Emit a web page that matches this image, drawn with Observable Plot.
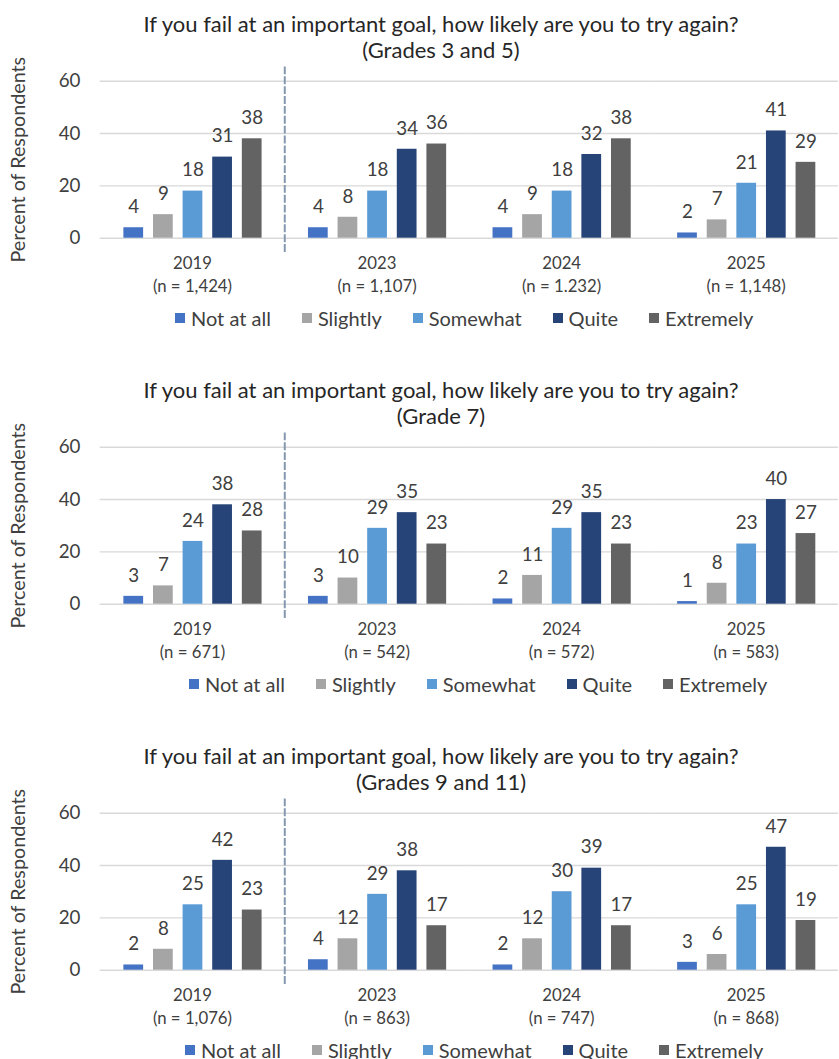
<!DOCTYPE html>
<html>
<head>
<meta charset="utf-8">
<script src="https://cdn.jsdelivr.net/npm/d3@7"></script>
<script src="https://cdn.jsdelivr.net/npm/@observablehq/plot@0.6"></script>
<style>
  html, body { margin: 0; padding: 0; background: #fff; }
  #root { position: relative; width: 839px; height: 1059px; overflow: hidden; background: #fff; font-family: Lato, "Open Sans", sans-serif; color: #404040; }
  .panel { position: absolute; left: 0; width: 839px; height: 366px; }
  .title { position: absolute; top: 11px; left: 41px; width: 800px; text-align: center; font-size: 22px; line-height: 26px; color: #262626; white-space: nowrap; }
  .chart { position: absolute; top: 62px; left: 0; }
  .legend { position: absolute; top: 306px; height: 23px; display: flex; align-items: center; gap: 31px; font-size: 20px; color: #404040; white-space: nowrap; }
  .legend .item { display: flex; align-items: center; gap: 6px; }
  .legend .sw { width: 10px; height: 10px; display: inline-block; }
</style>
</head>
<body>
<div id="root"></div>
<script>
// Survey question shared by the three panels
const question = "If you fail at an important goal, how likely are you to try again?";

// Survey years and answer levels
const years = ["2019", "2023", "2024", "2025"];
const levels = ["Not at all", "Slightly", "Somewhat", "Quite", "Extremely"];
const levelColors = ["#4472C4", "#A5A5A5", "#5B9BD5", "#264478", "#636363"];
const yTicks = [0, 20, 40, 60];

// Grades 3 and 5: percent per level, one row per year
const grades35 = [
  [4, 9, 18, 31, 38],
  [4, 8, 18, 34, 36],
  [4, 9, 18, 32, 38],
  [2, 7, 21, 41, 29]
];
const grades35N = ["(n = 1,424)", "(n = 1,107)", "(n = 1.232)", "(n = 1,148)"];

// Grade 7
const grade7 = [
  [3, 7, 24, 38, 28],
  [3, 10, 29, 35, 23],
  [2, 11, 29, 35, 23],
  [1, 8, 23, 40, 27]
];
const grade7N = ["(n = 671)", "(n = 542)", "(n = 572)", "(n = 583)"];

// Grades 9 and 11
const grades911 = [
  [2, 8, 25, 42, 23],
  [4, 12, 29, 38, 17],
  [2, 12, 30, 39, 17],
  [3, 6, 25, 47, 19]
];
const grades911N = ["(n = 1,076)", "(n = 863)", "(n = 747)", "(n = 868)"];

const panels = [
  {subtitle: "(Grades 3 and 5)", values: grades35, n: grades35N, legendLeft: 175},
  {subtitle: "(Grade 7)", values: grade7, n: grade7N, legendLeft: 189},
  {subtitle: "(Grades 9 and 11)", values: grades911, n: grades911N, legendLeft: 185}
];

const FONT = "Lato, 'Open Sans', sans-serif";
const root = document.getElementById("root");

panels.forEach((p, k) => {
  const rows = [];
  years.forEach((year, i) => levels.forEach((level, j) => rows.push({year, level, value: p.values[i][j]})));
  const yearRows = years.map((year, i) => ({year, n: p.n[i]}));

  const panel = document.createElement("div");
  panel.className = "panel";
  panel.style.top = (k * 366) + "px";

  const title = document.createElement("div");
  title.className = "title";
  title.innerHTML = `<div>${question}</div><div>${p.subtitle}</div>`;
  panel.appendChild(title);

  const chart = Plot.plot({
    width: 850,
    height: 245,
    marginLeft: 101,
    marginRight: 1,
    marginTop: 19,
    marginBottom: 67,
    style: {fontFamily: FONT, fontSize: "18px", color: "#404040", background: "transparent", overflow: "visible"},
    fx: {domain: years, padding: 0, axis: null},
    x: {domain: levels, paddingInner: 0.34, paddingOuter: 0.74, axis: null},
    y: {domain: [0, 60]},
    color: {domain: levels, range: levelColors},
    marks: [
      Plot.gridY(yTicks, {stroke: "#D9D9D9", strokeOpacity: 1, strokeWidth: 1.5}),
      Plot.axisY(yTicks, {
        tickSize: 0, tickPadding: 20, fontSize: 19,
        label: "Percent of Respondents", labelAnchor: "center", labelOffset: 90, labelArrow: "none"
      }),
      // dashed separator after the 2019 baseline year
      Plot.frame({anchor: "right", fx: ["2019"], stroke: "#8497B0", strokeWidth: 2, strokeDasharray: "6,4", insetTop: -14, insetBottom: -13}),
      Plot.barY(rows, {fx: "year", x: "level", y: "value", fill: "level"}),
      Plot.text(rows, {fx: "year", x: "level", y: "value", text: d => String(d.value), dy: -21, fontSize: 19, fill: "#404040"}),
      Plot.text(yearRows, {fx: "year", text: "year", frameAnchor: "bottom", lineAnchor: "middle", dy: 26, fontSize: 17, fill: "#404040"}),
      Plot.text(yearRows, {fx: "year", text: "n", frameAnchor: "bottom", lineAnchor: "middle", dy: 49, fontSize: 17, fill: "#404040"})
    ]
  });
  chart.classList.add("chart");
  // the rotated axis title uses a slightly larger size than the tick labels
  chart.querySelectorAll("text").forEach(t => {
    if (t.textContent === "Percent of Respondents") t.setAttribute("font-size", "20");
  });
  panel.appendChild(chart);

  const legend = document.createElement("div");
  legend.className = "legend";
  legend.style.left = p.legendLeft + "px";
  legend.innerHTML = levels.map((l, j) =>
    `<span class="item"><span class="sw" style="background:${levelColors[j]}"></span>${l}</span>`).join("");
  panel.appendChild(legend);

  root.appendChild(panel);
});
</script>
</body>
</html>
